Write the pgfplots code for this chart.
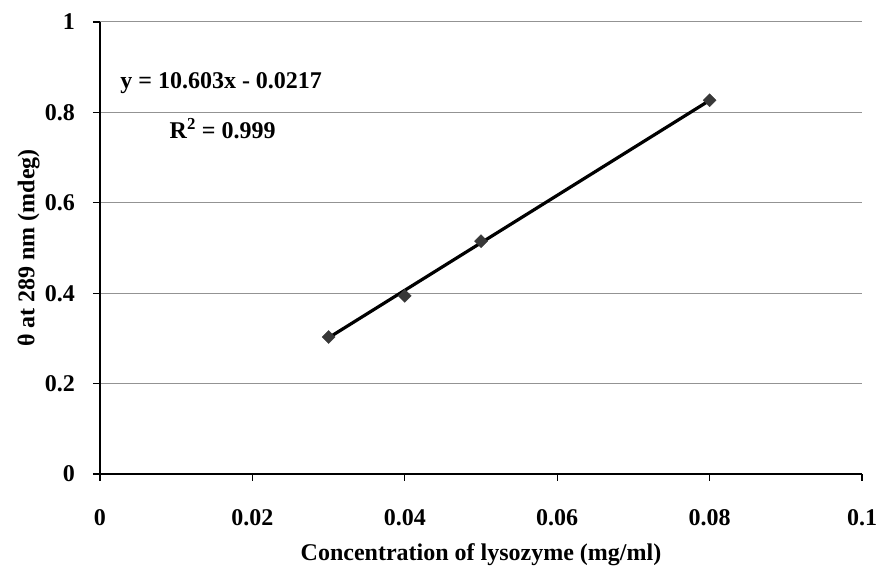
\documentclass[border=0pt]{standalone}
\usepackage{pgfplots}
\pgfplotsset{compat=1.18}
\usepackage{fontspec}
\setmainfont{Liberation Serif}
\begin{document}
\fontsize{24}{28}\selectfont\bfseries
\begin{tikzpicture}
\begin{axis}[
  scale only axis,
  width=762pt, height=452pt,
  xmin=0, xmax=0.1, ymin=0, ymax=1,
  xtick={0,0.02,0.04,0.06,0.08,0.1},
  ytick={0,0.2,0.4,0.6,0.8,1},
  xticklabels={0,0.02,0.04,0.06,0.08,0.1},
  yticklabels={0,0.2,0.4,0.6,0.8,1},
  axis x line*=bottom, axis y line*=left,
  axis line style={black, line width=1.4pt, -},
  ymajorgrids,
  grid style={gray!85, line width=1pt},
  tick style={black, line width=1.2pt},
  tick align=outside,
  major tick length=7pt,
  tick label style={font=\fontsize{24}{28}\selectfont\bfseries},
  xticklabel style={yshift=-20pt},
  yticklabel style={xshift=-10pt},
  xlabel={Concentration of lysozyme (mg/ml)},
  ylabel={θ at 289 nm (mdeg)},
  label style={font=\fontsize{24}{28}\selectfont\bfseries},
  xlabel style={inner sep=0pt, yshift=-10pt},
  ylabel style={yshift=-11pt},
  clip=false,
]
\addplot[black, line width=3.2pt] coordinates {(0.03,0.3014) (0.08,0.8265)};
\addplot[only marks, mark=square*, mark size=4.6pt, mark options={rotate=45}, color=black!78] coordinates {
  (0.03,0.303) (0.04,0.394) (0.05,0.515) (0.08,0.827)
};
\node[font=\fontsize{24}{28}\selectfont\bfseries] at (axis cs:0.0159,0.865) {y = 10.603x - 0.0217};
\node[font=\fontsize{24}{28}\selectfont\bfseries] at (axis cs:0.0161,0.765) {R$^{\mathbf{2}}$ = 0.999};
\coordinate (A) at (rel axis cs:0,0);
\coordinate (B) at (rel axis cs:1,1);
\end{axis}
\pgfresetboundingbox
\path ([shift={(-100pt,-100pt)}]A) rectangle ([shift={(19pt,22pt)}]B);
\end{tikzpicture}
\end{document}
